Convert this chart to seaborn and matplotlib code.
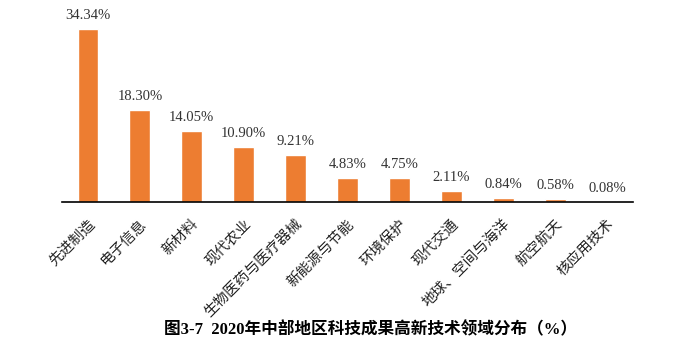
import pandas as pd
import seaborn as sns
import matplotlib.pyplot as plt

categories = ["先进制造", "电子信息", "新材料", "现代农业", "生物医药与医疗器械",
              "新能源与节能", "环境保护", "现代交通", "地球、空间与海洋",
              "航空航天", "核应用技术"]
shares = [34.34, 18.30, 14.05, 10.90, 9.21, 4.83, 4.75, 2.11, 0.84, 0.58, 0.08]
title = "图3-7  2020年中部地区科技成果高新技术领域分布（%）"

df = pd.DataFrame({"category": categories, "share": shares})

sns.set_theme(style="white")
plt.rcParams["font.family"] = ["Liberation Serif", "Noto Sans CJK SC"]

fig = plt.figure(figsize=(6.89, 3.53), dpi=100)
ax = fig.add_axes([62 / 689, (353 - 202) / 353, 571 / 689, 202 / 353])

sns.barplot(data=df, x="category", y="share", color="#ED7D31",
            width=0.4, saturation=1, ax=ax)

for i, v in enumerate(shares):
    ax.text(i, v + 1.4, f"{v:.2f}%", ha="center", va="bottom",
            fontsize=10.5, color="#333333")

ax.set_ylim(0, 40)
ax.set_xlim(-0.5, len(categories) - 0.5)
ax.set_yticks([])
ax.set_xlabel("")
ax.set_ylabel("")
ax.tick_params(axis="x", length=0, pad=11)
ax.set_xticks(range(len(categories)))
ax.set_xticklabels(categories, rotation=45, ha="right",
                   rotation_mode="anchor", fontsize=10.5, color="#222222")
for s in ["top", "left", "right"]:
    ax.spines[s].set_visible(False)
ax.spines["bottom"].set_color("black")
ax.spines["bottom"].set_linewidth(1.2)

fig.text(370 / 689, 1 - 330 / 353, title, ha="center", va="center",
         fontsize=12, fontweight="bold", color="black")

fig.savefig("out.png", dpi=100)
plt.close(fig)
